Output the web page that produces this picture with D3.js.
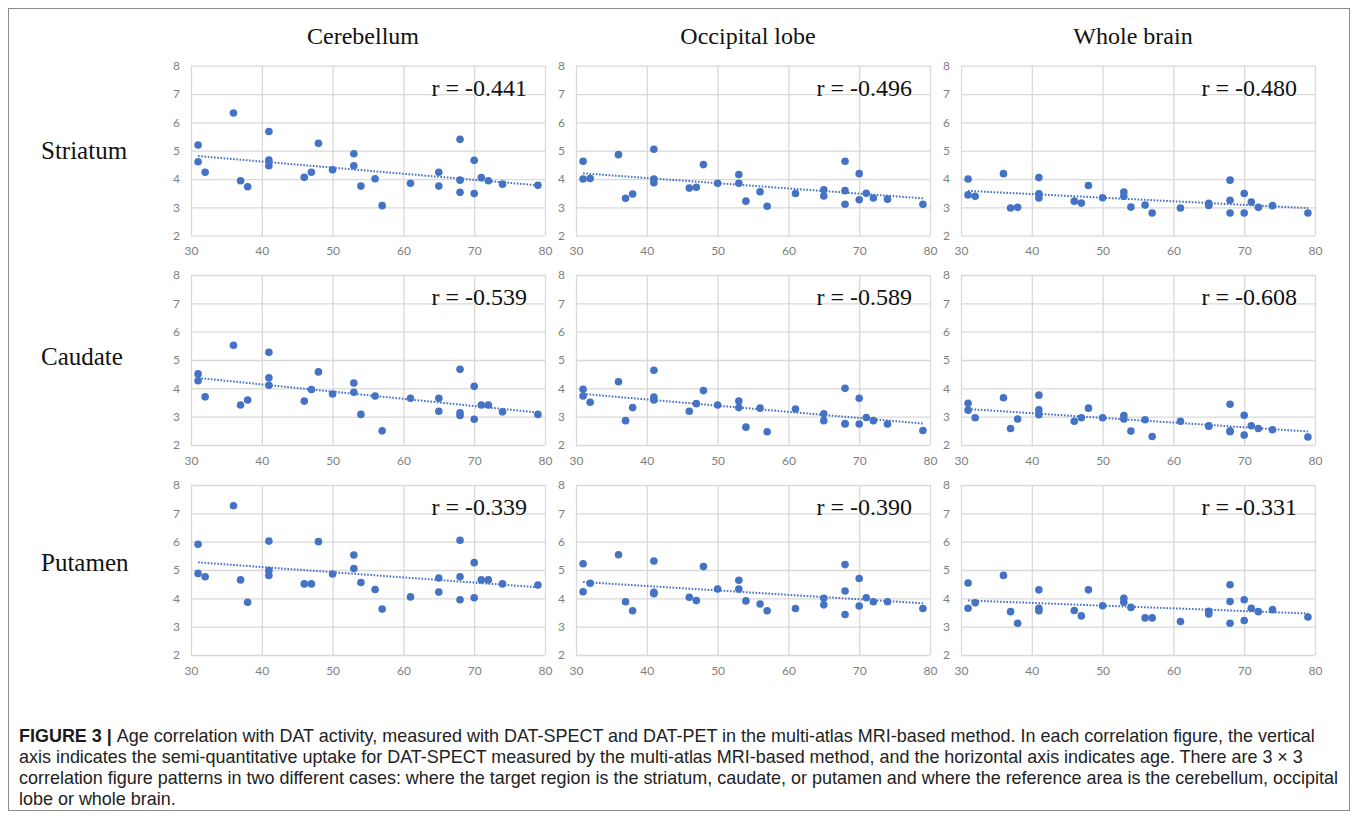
<!DOCTYPE html>
<html>
<head>
<meta charset="utf-8">
<script src="https://cdn.jsdelivr.net/npm/d3@7"></script>
<style>
  body { margin: 0; background: #fff; }
  svg { display: block; }
</style>
</head>
<body>
<svg id="fig" width="1358" height="816"></svg>
<script>
// ages of the 30 subjects, shared by every panel
const ages = [31, 31, 32, 36, 37, 38, 41, 41, 41, 46, 47, 48, 50, 53, 53, 54, 56, 57, 61, 65, 65, 68, 68, 68, 70, 70, 71, 72, 74, 79]

const targets = ['Striatum', 'Caudate', 'Putamen']
const references = ['Cerebellum', 'Occipital lobe', 'Whole brain']
const xTicks = [30, 40, 50, 60, 70, 80]
const yTicks = [2, 3, 4, 5, 6, 7, 8]

const rLabels = [
  ['r = -0.441', 'r = -0.496', 'r = -0.480'],
  ['r = -0.539', 'r = -0.589', 'r = -0.608'],
  ['r = -0.339', 'r = -0.390', 'r = -0.331']
]

const striatumCerebellum = [5.20, 4.61, 4.24, 6.33, 3.94, 3.73, 5.68, 4.67, 4.47, 4.06, 4.24, 5.26, 4.33, 4.89, 4.47, 3.75, 4.01, 3.06, 3.85, 4.24, 3.75, 5.40, 3.96, 3.53, 4.66, 3.49, 4.05, 3.94, 3.82, 3.78]
const striatumOccipital = [4.63, 4.00, 4.02, 4.86, 3.32, 3.47, 5.05, 4.00, 3.87, 3.68, 3.71, 4.51, 3.85, 4.16, 3.85, 3.22, 3.55, 3.04, 3.49, 3.62, 3.40, 4.63, 3.59, 3.11, 4.19, 3.27, 3.50, 3.33, 3.29, 3.11]
const striatumWhole = [4.00, 3.44, 3.39, 4.19, 2.98, 3.00, 4.05, 3.48, 3.33, 3.22, 3.15, 3.77, 3.34, 3.54, 3.39, 3.01, 3.08, 2.80, 2.98, 3.14, 3.07, 3.96, 3.25, 2.80, 3.49, 2.80, 3.19, 3.00, 3.06, 2.80]

const caudateCerebellum = [4.51, 4.27, 3.70, 5.52, 3.41, 3.59, 5.27, 4.37, 4.11, 3.55, 3.96, 4.58, 3.80, 4.19, 3.86, 3.08, 3.73, 2.50, 3.65, 3.65, 3.19, 4.67, 3.14, 3.04, 4.07, 2.91, 3.41, 3.41, 3.17, 3.08]
const caudateOccipital = [3.97, 3.73, 3.51, 4.23, 2.86, 3.32, 4.64, 3.69, 3.59, 3.19, 3.46, 3.92, 3.41, 3.55, 3.32, 2.63, 3.30, 2.47, 3.27, 3.10, 2.86, 4.00, 2.76, 2.74, 3.65, 2.74, 2.97, 2.86, 2.74, 2.51]
const caudateWhole = [3.47, 3.23, 2.96, 3.67, 2.58, 2.92, 3.76, 3.24, 3.07, 2.84, 2.96, 3.30, 2.96, 3.04, 2.92, 2.49, 2.89, 2.30, 2.84, 2.68, 2.66, 3.44, 2.50, 2.47, 3.05, 2.35, 2.68, 2.58, 2.54, 2.28]

const putamenCerebellum = [5.91, 4.88, 4.76, 7.27, 4.65, 3.86, 6.02, 4.98, 4.81, 4.51, 4.51, 6.00, 4.86, 5.53, 5.05, 4.56, 4.31, 3.62, 4.05, 4.72, 4.22, 6.05, 4.76, 3.95, 5.26, 4.02, 4.65, 4.65, 4.51, 4.47]
const putamenOccipital = [5.22, 4.23, 4.53, 5.54, 3.88, 3.56, 5.32, 4.21, 4.16, 4.04, 3.92, 5.12, 4.33, 4.64, 4.33, 3.91, 3.80, 3.56, 3.64, 4.00, 3.77, 5.19, 4.26, 3.43, 4.70, 3.73, 4.02, 3.88, 3.88, 3.64]
const putamenWhole = [4.54, 3.65, 3.84, 4.81, 3.53, 3.12, 4.30, 3.65, 3.56, 3.57, 3.38, 4.30, 3.74, 4.00, 3.86, 3.68, 3.31, 3.31, 3.18, 3.54, 3.45, 4.48, 3.89, 3.12, 3.95, 3.22, 3.65, 3.53, 3.60, 3.34]

const captionLines = [
  [['FIGURE 3 | ', true], ['Age correlation with DAT activity, measured with DAT-SPECT and DAT-PET in the multi-atlas MRI-based method. In each correlation figure, the vertical', false]],
  [['axis indicates the semi-quantitative uptake for DAT-SPECT measured by the multi-atlas MRI-based method, and the horizontal axis indicates age. There are 3 \u00d7 3', false]],
  [['correlation figure patterns in two different cases: where the target region is the striatum, caudate, or putamen and where the reference area is the cerebellum, occipital', false]],
  [['lobe or whole brain.', false]]
]

const panels = [
  [striatumCerebellum, striatumOccipital, striatumWhole],
  [caudateCerebellum, caudateOccipital, caudateWhole],
  [putamenCerebellum, putamenOccipital, putamenWhole]
]

//
// layout
//

const colLeft = [191, 576, 961]
const rowTop = [65.7, 275, 485]
const plotW = 354
const plotH = 170
const blue = '#4472c4'
const grid = '#d9d9d9'

const svg = d3.select('#fig')

svg.append('rect')
  .attr('x', 8.5).attr('y', 8.5)
  .attr('width', 1341).attr('height', 802)
  .attr('fill', 'none')
  .attr('stroke', '#8c8c8c')
  .attr('stroke-width', 1)

svg.selectAll('.col-title')
  .data(references)
  .enter().append('text')
    .attr('class', 'col-title')
    .attr('x', (d, i) => colLeft[i] + plotW / 2 - 5)
    .attr('y', 44)
    .attr('text-anchor', 'middle')
    .style('font-family', "'Liberation Serif', 'Times New Roman', serif")
    .style('font-size', '24px')
    .style('fill', '#111')
    .text(d => d)

const rowLabelY = [159, 365, 571]
svg.selectAll('.row-title')
  .data(targets)
  .enter().append('text')
    .attr('class', 'row-title')
    .attr('x', 41)
    .attr('y', (d, i) => rowLabelY[i])
    .style('font-family', "'Liberation Serif', 'Times New Roman', serif")
    .style('font-size', '25px')
    .style('fill', '#111')
    .text(d => d)

const x = d3.scaleLinear().domain([30, 80]).range([0, plotW])
const y = d3.scaleLinear().domain([2, 8]).range([plotH, 0])

function fit(xs, ys) {
  let mx = d3.mean(xs), my = d3.mean(ys)
  let sxy = d3.sum(xs, (v, i) => (v - mx) * (ys[i] - my))
  let sxx = d3.sum(xs, v => (v - mx) * (v - mx))
  let slope = sxy / sxx
  return v => my + slope * (v - mx)
}

panels.forEach((row, ri) => {
  row.forEach((values, ci) => {
    let g = svg.append('g')
      .attr('transform', `translate(${colLeft[ci]},${rowTop[ri]})`)

    g.append('g')
      .attr('class', 'grid-y')
      .call(d3.axisLeft(y).tickValues(yTicks).tickSize(-plotW).tickFormat(''))
      .call(s => s.select('.domain').remove())
      .call(s => s.selectAll('line').attr('stroke', grid).attr('stroke-width', 1.3))

    g.append('g')
      .attr('class', 'grid-x')
      .attr('transform', `translate(0,${plotH})`)
      .call(d3.axisBottom(x).tickValues(xTicks).tickSize(-plotH).tickFormat(''))
      .call(s => s.select('.domain').remove())
      .call(s => s.selectAll('line').attr('stroke', grid).attr('stroke-width', 1.3))

    g.append('g')
      .attr('class', 'y-axis')
      .call(d3.axisLeft(y).tickValues(yTicks).tickFormat(d3.format('d')).tickSize(0).tickPadding(11))
      .call(s => s.select('.domain').remove())
      .call(s => s.selectAll('text')
        .style('font-family', "Lato, 'Open Sans', sans-serif")
        .style('font-size', '12px')
        .style('fill', '#7f7f7f'))

    g.append('g')
      .attr('class', 'x-axis')
      .attr('transform', `translate(0,${plotH})`)
      .call(d3.axisBottom(x).tickValues(xTicks).tickFormat(d3.format('d')).tickSize(0).tickPadding(11))
      .call(s => s.select('.domain').remove())
      .call(s => s.selectAll('text')
        .style('font-family', "Lato, 'Open Sans', sans-serif")
        .style('font-size', '12px')
        .style('fill', '#7f7f7f'))

    // dotted linear trendline over the data range
    let line = fit(ages, values)
    let ext = d3.extent(ages)
    g.append('line')
      .attr('x1', x(ext[0])).attr('y1', y(line(ext[0])))
      .attr('x2', x(ext[1])).attr('y2', y(line(ext[1])))
      .attr('stroke', blue)
      .attr('stroke-width', 2)
      .attr('stroke-dasharray', '1.6,1.6')

    g.selectAll('.dot')
      .data(values)
      .enter().append('circle')
        .attr('class', 'dot')
        .attr('cx', (d, i) => x(ages[i]))
        .attr('cy', d => y(d))
        .attr('r', 3.8)
        .attr('fill', blue)

    g.append('text')
      .attr('x', plotW - 18)
      .attr('y', 30)
      .attr('text-anchor', 'end')
      .style('font-family', "'Liberation Serif', 'Times New Roman', serif")
      .style('font-size', '24px')
      .style('fill', '#111')
      .text(rLabels[ri][ci])
  })
})

//
// caption
//

const cap = svg.append('g').attr('class', 'caption')
const capLineY = [742, 763, 784, 805]
captionLines.forEach((parts, li) => {
  let t = cap.append('text')
    .attr('x', 19)
    .attr('y', capLineY[li])
    .style('font-family', "'Liberation Sans', Arial, sans-serif")
    .style('font-size', '16px')
    .style('fill', '#222')
  parts.forEach(p => {
    t.append('tspan')
      .style('font-weight', p[1] ? 'bold' : 'normal')
      .style('fill', p[1] ? '#1a1a1a' : '#222')
      .text(p[0])
  })
})

// size the caption so the first line spans the figure width
let first = cap.select('text').node()
let w = first.getComputedTextLength()
let size = 16 * 1297 / w
cap.selectAll('text').style('font-size', size + 'px')
</script>
</body>
</html>
